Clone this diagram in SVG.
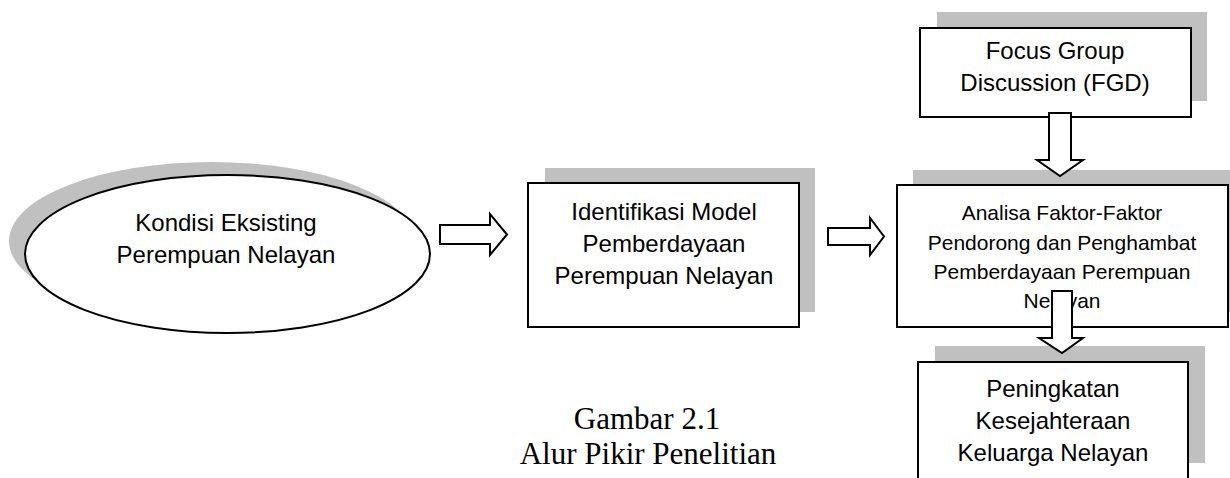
<svg xmlns="http://www.w3.org/2000/svg" width="1230" height="478" viewBox="0 0 1230 478">
<style>
.shadow{fill:#c0c0c0;stroke:none}
.box{fill:#fff;stroke:#000;stroke-width:2}
.lbl{font-family:"Liberation Sans",Arial,sans-serif;font-size:24px;fill:#000;text-anchor:middle}
.sm{font-size:21px}
.cap{font-family:"Liberation Serif","Times New Roman",serif;font-size:31px;fill:#000;text-anchor:middle}
.arr{fill:#fff;stroke:#000;stroke-width:2;stroke-linejoin:miter}
</style>
<rect width="1230" height="478" fill="#fff"/>
<g id="kondisi">
<ellipse class="shadow" cx="211.5" cy="241" rx="202.5" ry="79"/>
<ellipse class="box" cx="227.5" cy="254" rx="202.5" ry="79"/>
<text class="lbl" x="226" y="231">Kondisi Eksisting</text>
<text class="lbl" x="226" y="263">Perempuan Nelayan</text>
</g>
<g id="identifikasi">
<rect class="shadow" x="545" y="168" width="270" height="144"/>
<rect class="box" x="528" y="183" width="271" height="144"/>
<text class="lbl" x="664" y="220">Identifikasi Model</text>
<text class="lbl" x="664" y="252">Pemberdayaan</text>
<text class="lbl" x="664" y="284">Perempuan Nelayan</text>
</g>
<g id="fgd">
<rect class="shadow" x="937" y="12" width="270" height="89"/>
<rect class="box" x="920" y="28" width="271" height="89"/>
<text class="lbl" x="1055" y="59">Focus Group</text>
<text class="lbl" x="1055" y="91">Discussion (FGD)</text>
</g>
<g id="analisa">
<rect class="shadow" x="913" y="170" width="331" height="142"/>
<rect class="box" x="897" y="185" width="331" height="142"/>
<text class="lbl sm" x="1062" y="220">Analisa Faktor-Faktor</text>
<text class="lbl sm" x="1062" y="250">Pendorong dan Penghambat</text>
<text class="lbl sm" x="1062" y="279">Pemberdayaan Perempuan</text>
<text class="lbl sm" x="1062" y="308">Nelayan</text>
</g>
<g id="peningkatan">
<rect class="shadow" x="935" y="346" width="270" height="117"/>
<rect class="box" x="918" y="362" width="270" height="130"/>
<text class="lbl" x="1053" y="397">Peningkatan</text>
<text class="lbl" x="1053" y="429">Kesejahteraan</text>
<text class="lbl" x="1053" y="461">Keluarga Nelayan</text>
</g>
<g id="connectors">
<path class="arr" d="M440,225 H490 V214 L507,234.5 L490,255 V244 H440 Z"/>
<path class="arr" d="M828,228 H870 V218 L884,236.5 L870,255 V245 H828 Z"/>
<path class="arr" d="M1049,113 H1071 V160 H1083 L1060,176 L1037,160 H1049 Z"/>
<path class="arr" d="M1052,291 H1072 V338 H1083 L1062,353 L1039,338 H1052 Z"/>
</g>
<g id="caption">
<text class="cap" x="647" y="429">Gambar 2.1</text>
<text class="cap" x="648" y="464">Alur Pikir Penelitian</text>
</g>
</svg>
